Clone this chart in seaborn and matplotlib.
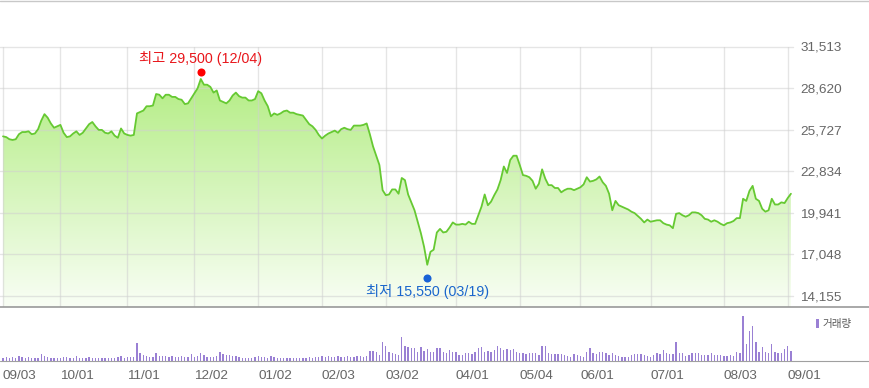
import numpy as np
import matplotlib
matplotlib.use("Agg")
import matplotlib.pyplot as plt
import matplotlib.transforms as mtransforms
import seaborn as sns
from matplotlib.lines import Line2D
from matplotlib.patches import Polygon, Rectangle
from matplotlib.colors import to_rgb

# daily closing price, one value per trading day (09/03 .. 09/02)
close = [
    25250, 25200, 25050, 25000, 25050, 25400, 25550, 25550, 25600, 25400,
    25450, 25750, 26350, 26800, 26550, 26150, 25850, 25950, 26050, 25500,
    25200, 25250, 25450, 25600, 25350, 25500, 25800, 26100, 26250, 25950,
    25700, 25700, 25500, 25450, 25600, 25300, 25150, 25800, 25450, 25350,
    25300, 25350, 26850, 26950, 27050, 27350, 27350, 27400, 28200, 28150,
    27900, 28150, 28150, 28000, 28000, 27850, 27800, 27500, 27550, 27900,
    28250, 28600, 29250, 28850, 28850, 28700, 28300, 28450, 27750, 27650,
    27550, 27750, 28100, 28300, 28050, 27950, 27950, 27750, 27750, 27850,
    28400, 28250, 27750, 27350, 26650, 26850, 26750, 26850, 27000, 27050,
    26900, 26900, 26800, 26750, 26700, 26400, 26100, 25950, 25700, 25350,
    25100, 25300, 25450, 25550, 25650, 25500, 25750, 25850, 25750, 25700,
    26000, 26000, 26000, 26050, 26150, 25400, 24550, 23900, 23250, 21500,
    21150, 21200, 21550, 21550, 21250, 22350, 22200, 21200, 20650, 20100,
    19300, 18500, 17550, 16300, 17200, 17350, 18550, 18800, 18550, 18600,
    18900, 19250, 19100, 19100, 19150, 19100, 19300, 19150, 19150, 19750,
    20350, 21200, 20450, 20700, 21150, 21550, 22200, 23150, 22700, 23600,
    23900, 23900, 23250, 22550, 22500, 22400, 22150, 21600, 21950, 22950,
    22300, 21850, 21850, 21650, 21650, 21350, 21500, 21600, 21600, 21500,
    21600, 21700, 21900, 22400, 22100, 22150, 22250, 22450, 22050, 21800,
    21250, 20100, 20750, 20450, 20350, 20250, 20150, 20000, 19900, 19700,
    19500, 19250, 19450, 19300, 19350, 19400, 19400, 19200, 19100, 19050,
    18850, 19850, 19900, 19750, 19650, 19750, 19950, 19950, 19900, 19750,
    19500, 19450, 19300, 19400, 19300, 19150, 19050, 19200, 19250, 19350,
    19550, 19550, 20900, 20750, 21450, 21800, 20900, 20750, 20200, 20000,
    20100, 20900, 20500, 20500, 20650, 20600, 20950, 21250,
]

# trading volume (10k shares), same days
volume = [
    35, 38, 30, 42, 33, 50, 36, 32, 38, 30, 34, 31, 72, 52, 36, 33, 30, 35,
    32, 36, 42, 30, 34, 52, 33, 35, 31, 36, 28, 33, 30, 34, 32, 35, 30, 33, 42, 50, 33,
    40, 42, 38, 177, 80, 60, 50, 42, 40, 80, 50, 48, 52, 42, 50, 40, 42, 50, 40, 42, 70,
    42, 50, 80, 60, 42, 40, 44, 50, 90, 70, 60, 58, 50, 48, 40, 32, 30, 33, 30, 40,
    50, 40, 42, 33, 50, 40, 32, 30, 33, 30, 32, 30, 34, 30, 33, 32, 40, 34, 40, 42,
    50, 42, 50, 40, 42, 50, 40, 44, 50, 42, 40, 50, 52, 44, 50, 100, 100, 90, 60, 187,
    153, 87, 77, 70, 60, 237, 150, 143, 127, 133, 93, 137, 103, 117, 93, 93, 127, 127, 93, 83,
    110, 87, 93, 60, 60, 77, 77, 70, 93, 133, 143, 93, 103, 93, 110, 153, 133, 110, 117, 110,
    117, 93, 83, 77, 70, 77, 77, 77, 60, 153, 150, 77, 70, 70, 67, 67, 60, 50, 43, 67,
    60, 50, 43, 93, 127, 77, 67, 87, 87, 83, 60, 83, 60, 50, 37, 37, 43, 60, 67, 67,
    67, 60, 50, 43, 60, 77, 67, 110, 77, 67, 67, 187, 77, 77, 50, 60, 77, 77, 77, 60,
    60, 60, 77, 60, 60, 60, 50, 50, 60, 50, 93, 77, 453, 167, 303, 353, 187, 87, 143, 93,
    77, 167, 93, 77, 77, 117, 153, 100,
]

tick_pos = [0, 18, 39, 60, 80, 100, 120, 142, 162, 181, 203, 226, 246]
tick_labels = ["09/03", "10/01", "11/01", "12/02", "01/02", "02/03", "03/02",
               "04/01", "05/04", "06/01", "07/01", "08/03", "09/01"]
price_ticks = [14155, 17048, 19941, 22834, 25727, 28620, 31513]

hi_idx, hi_val, hi_text = 62, 29500, "최고 29,500 (12/04)"
lo_idx, lo_val, lo_text = 133, 15550, "최저 15,550 (03/19)"
vol_label = "거래량"

sns.set_style("white")
plt.rcParams['font.family'] = ['Liberation Sans', 'Noto Sans CJK KR', 'DejaVu Sans']

W, H = 870, 388
fig = plt.figure(figsize=(W / 100, H / 100), dpi=100)
ax = fig.add_axes([0, 81 / H, 793 / W, 260.5 / H])
axv = fig.add_axes([0, 27 / H, 793 / W, 54 / H])

idx = np.arange(len(close))
x_lim = (-0.94, 247.65)
y_bot, y_top = 13356, 31513

# gradient fill under the price line
top_c = np.array(to_rgb('#b4ed85'))
bot_c = np.array(to_rgb('#f9fef5'))
t = np.linspace(0, 1, 256)[:, None]
grad = (bot_c + (top_c - bot_c) * t).reshape(256, 1, 3)
im = ax.imshow(grad, extent=(idx[0], idx[-1], y_bot, max(close)), origin='lower',
               aspect='auto', zorder=1, interpolation='bilinear')
poly = Polygon(np.column_stack([np.r_[idx[0], idx, idx[-1]],
                                np.r_[y_bot, close, y_bot]]),
               closed=True, facecolor='none', edgecolor='none')
ax.add_patch(poly)
im.set_clip_path(poly)

# grid over the fill
for v in price_ticks:
    ax.axhline(v, color='#d0d0d0', alpha=0.55, lw=1, zorder=1.5, clip_on=False)
for p in tick_pos:
    ax.axvline(p, color='#d0d0d0', alpha=0.55, lw=1, zorder=1.5)

sns.lineplot(x=idx, y=close, ax=ax, color='#66c932', linewidth=1.3, zorder=3)

# high / low markers
up = mtransforms.offset_copy(ax.transData, fig=fig, x=0, y=3.7, units='dots')
down = mtransforms.offset_copy(ax.transData, fig=fig, x=0, y=-2.8, units='dots')
ax.plot([hi_idx], [hi_val], 'o', ms=5.8, color='#ff0000', mec='none',
        transform=up, zorder=4, clip_on=False)
ax.plot([lo_idx], [lo_val], 'o', ms=5.8, color='#1862d6', mec='none',
        transform=down, zorder=4, clip_on=False)
ax.annotate(hi_text, xy=(hi_idx, hi_val), xytext=(0, 16.4), textcoords='offset pixels',
            ha='center', va='center', color='#e8161b', fontsize=10.3)
ax.annotate(lo_text, xy=(lo_idx, lo_val), xytext=(0, -16.2), textcoords='offset pixels',
            ha='center', va='center', color='#1a66cc', fontsize=10.3)

ax.set_xlim(x_lim)
ax.set_ylim(y_bot, y_top)
ax.set_xlabel('')
ax.set_ylabel('')
ax.set_xticks([])
ax.yaxis.tick_right()
ax.set_yticks(price_ticks, [f"{v:,}" for v in price_ticks])
ax.tick_params(axis='y', length=0, pad=5.3, labelsize=9.7, labelcolor='#666666')
for s in ax.spines.values():
    s.set_visible(False)

# volume panel
axv.bar(idx, volume, width=0.42, color='#9a80d4', linewidth=0)
axv.set_xlim(x_lim)
axv.set_ylim(0, 540)
axv.set_yticks([])
axv.set_xticks(tick_pos, tick_labels, ha='left')
axv.tick_params(axis='x', direction='out', length=3.6, width=0.8, color='#999999',
                pad=3, labelsize=9.7, labelcolor='#666666')
for s in axv.spines.values():
    s.set_visible(False)

# panel borders across full width
fig.add_artist(Line2D([0, 1], [1 - 0.5 / H] * 2, color='#c8c8c8', lw=1))
fig.add_artist(Line2D([0, 1], [81 / H] * 2, color='#999999', lw=1.2))
fig.add_artist(Line2D([0, 1], [27 / H] * 2, color='#a0a0a0', lw=0.8))

# volume legend
fig.add_artist(Rectangle((816 / W, (H - 328) / H), 3 / W, 9 / H,
                         transform=fig.transFigure, color='#9a80d4', lw=0))
fig.text(823 / W, (H - 323.5) / H, vol_label, ha='left', va='center',
         fontsize=7.6, color='#555555', family=['Noto Sans CJK KR', 'DejaVu Sans'])

fig.savefig('out.png', dpi=100)
